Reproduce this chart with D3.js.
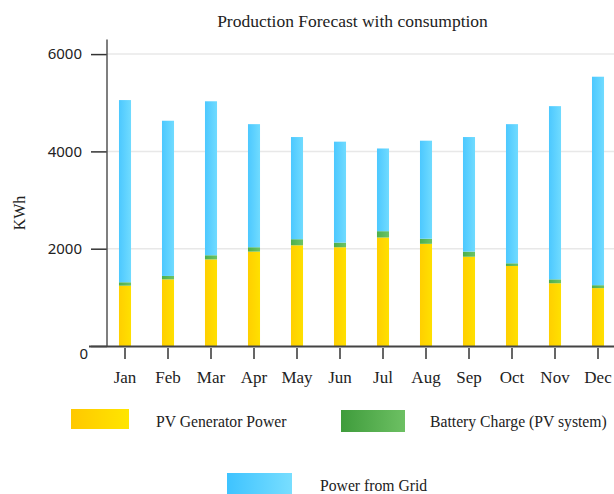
<!DOCTYPE html>
<html><head><meta charset="utf-8">
<script src="https://cdn.jsdelivr.net/npm/d3@7"></script>
<style>html,body{margin:0;padding:0;background:#fff;overflow:hidden}</style>
</head><body>
<script>
const months = ["Jan","Feb","Mar","Apr","May","Jun","Jul","Aug","Sep","Oct","Nov","Dec"];
const pvPower = [1240,1370,1780,1940,2070,2030,2230,2100,1835,1645,1290,1190];
const batteryCharge = [70,70,85,90,125,95,130,105,105,55,80,60];
const gridPower = [3745,3190,3165,2530,2100,2075,1700,2015,2355,2860,3560,4285];
const yTicks = [0,2000,4000,6000];
const seriesNames = ["PV Generator Power","Battery Charge (PV system)","Power from Grid"];

const W = 614, H = 494;
const svg = d3.select("body").append("svg").attr("width", W).attr("height", H);
const defs = svg.append("defs");
function grad(id, c1, c2){
  const g = defs.append("linearGradient").attr("id", id).attr("x1","0%").attr("x2","100%").attr("y1","0%").attr("y2","0%");
  g.append("stop").attr("offset","0%").attr("stop-color", c1);
  g.append("stop").attr("offset","100%").attr("stop-color", c2);
}
grad("gY","#FFCF00","#FFE000");
grad("gG","#4CAF4C","#6CC466");
grad("gB","#4CC8FF","#70DBFF");
const fills = ["url(#gY)","url(#gG)","url(#gB)"];
const legFills = [["#FFC800","#FFE600"],["#3F9C3C","#6DC063"],["#3EC3FF","#78DEFF"]];
grad("lY", legFills[0][0], legFills[0][1]);
grad("lG", legFills[1][0], legFills[1][1]);
grad("lB", legFills[2][0], legFills[2][1]);

const x0 = 103.5;
const x = d3.scaleBand().domain(months).range([x0, x0 + 43*12]).paddingInner(0.72).paddingOuter(0.36);
const y = d3.scaleLinear().domain([0, 6300]).range([346, 39.5]);
const axisX = 107;

// gridlines
svg.append("g").selectAll("line").data(yTicks.filter(d=>d>0)).join("line")
  .attr("x1", axisX).attr("x2", W).attr("y1", d=>y(d)).attr("y2", d=>y(d))
  .attr("stroke","#e8e8e8").attr("stroke-width",1.5);

// stacked data
const rows = months.map((m,i)=>({month:m, pv:pvPower[i], bat:batteryCharge[i], grid:gridPower[i]}));
const stack = d3.stack().keys(["pv","bat","grid"])(rows);
svg.append("g").selectAll("g").data(stack).join("g")
  .attr("fill", (d,i)=>fills[i])
  .selectAll("rect").data(d=>d).join("rect")
  .attr("x", d=>x(d.data.month))
  .attr("width", x.bandwidth())
  .attr("y", d=>y(d[1]))
  .attr("height", d=>y(d[0]) - y(d[1]));

// y axis
const yAxis = svg.append("g").attr("transform", `translate(${axisX},0)`)
  .call(d3.axisLeft(y).tickValues(yTicks).tickSize(16).tickPadding(9).tickFormat(d3.format("d")));
yAxis.select(".domain").remove();
yAxis.append("line").attr("x1",0).attr("x2",0).attr("y1",y.range()[1]).attr("y2",347)
  .attr("stroke","#555").attr("stroke-width",1.5);
yAxis.selectAll(".tick line").attr("stroke","#333").attr("stroke-width",1.5);
yAxis.selectAll(".tick text").attr("font-family","'Noto Sans', sans-serif").attr("font-size",15).attr("fill","#222");
yAxis.selectAll(".tick").filter(d=>d===0).select("text").attr("dy","0.8em").attr("x",-19);

// x axis
const xAxis = svg.append("g").attr("transform", "translate(0,348)")
  .call(d3.axisBottom(x).tickSize(11).tickPadding(12));
xAxis.select(".domain").remove();
xAxis.selectAll(".tick line").attr("stroke","#333").attr("stroke-width",1.5);
xAxis.selectAll(".tick text").attr("font-family","'Liberation Serif', serif").attr("font-size",17).attr("fill","#222");
svg.append("line").attr("x1", axisX-18).attr("x2", W).attr("y1",346.5).attr("y2",346.5)
  .attr("stroke","#444").attr("stroke-width",2);

// title
svg.append("text").attr("x", 352.5).attr("y", 27).attr("text-anchor","middle")
  .attr("font-family","'Liberation Serif', serif").attr("font-size",17.5).attr("fill","#222")
  .text("Production Forecast with consumption");

// y label
svg.append("text").attr("transform","translate(25,213) rotate(-90)").attr("text-anchor","middle")
  .attr("font-family","'Liberation Serif', serif").attr("font-size",16).attr("fill","#222")
  .text("KWh");

// legend
const legend = [
  {name:seriesNames[0], fill:"url(#lY)", rx:71, ry:409, rw:58, rh:20, tx:156, ty:427},
  {name:seriesNames[1], fill:"url(#lG)", rx:341, ry:410, rw:64, rh:22, tx:430, ty:427},
  {name:seriesNames[2], fill:"url(#lB)", rx:227, ry:473, rw:65, rh:22, tx:320, ty:491}
];
const lg = svg.append("g").selectAll("g").data(legend).join("g");
lg.append("rect").attr("x",d=>d.rx).attr("y",d=>d.ry).attr("width",d=>d.rw).attr("height",d=>d.rh).attr("fill",d=>d.fill);
lg.append("text").attr("x",d=>d.tx).attr("y",d=>d.ty)
  .attr("font-family","'Liberation Serif', serif").attr("font-size",15.7).attr("fill","#222")
  .text(d=>d.name);
</script>
</body></html>
